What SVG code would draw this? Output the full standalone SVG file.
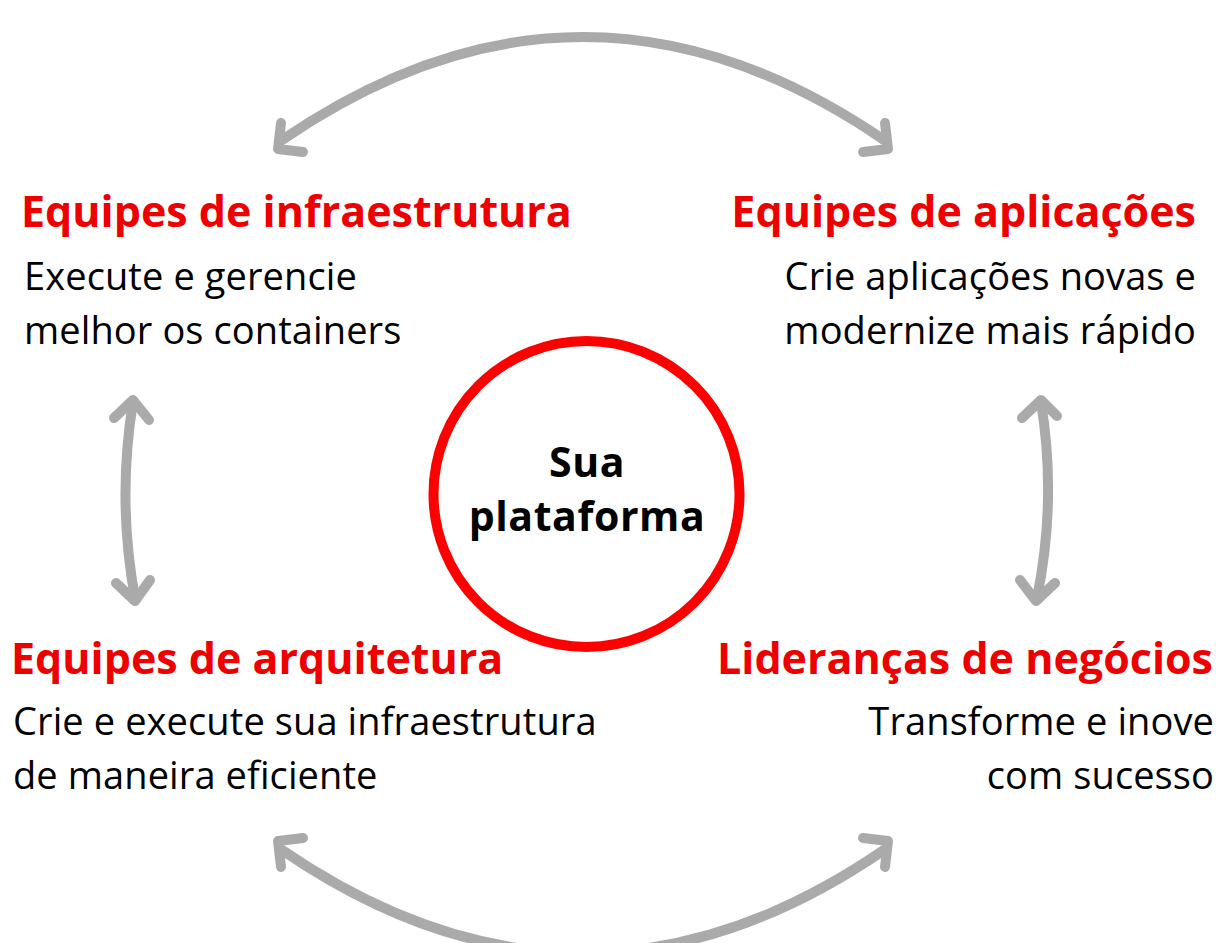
<svg xmlns="http://www.w3.org/2000/svg" width="1216" height="943" viewBox="0 0 1216 943">
<style>
.conn{fill:none;stroke:#aaaaaa;stroke-width:10;stroke-linecap:round;stroke-linejoin:round}
.title{font-family:"Open Sans","Liberation Sans",sans-serif;font-weight:700;font-size:43px;fill:#ee0000}
.body{font-family:"Open Sans","Liberation Sans",sans-serif;font-weight:400;font-size:38px;letter-spacing:0.1px;fill:#000}
.center{font-family:"Open Sans","Liberation Sans",sans-serif;font-weight:700;font-size:41px;letter-spacing:0.6px;fill:#000}
</style>
<rect width="1216" height="943" fill="#fff"/>
<g id="connectors">
<path class="conn" d="M282 140 Q583 -66 884 140"/>
<path class="conn" d="M281 123 L278 149 L303 152"/>
<path class="conn" d="M885 123 L888 149 L863 152"/>
<path class="conn" d="M282 850 Q583 1056 884 850"/>
<path class="conn" d="M281 867 L278 841 L303 838"/>
<path class="conn" d="M885 867 L888 841 L863 838"/>
<path class="conn" d="M133 402 Q117 500 135 598"/>
<path class="conn" d="M114 418 L133 400 L149 420"/>
<path class="conn" d="M116 583 L135 601 L150 580"/>
<path class="conn" d="M1041 402 Q1057 500 1037 598"/>
<path class="conn" d="M1022 418 L1041 400 L1057 416"/>
<path class="conn" d="M1020 580 L1036 601 L1055 583"/>
</g>
<g id="node-center">
<circle cx="586.5" cy="494" r="153" fill="#fff" stroke="#ff0000" stroke-width="10"/>
<text class="center" x="587" y="477" text-anchor="middle">Sua</text>
<text class="center" x="587" y="531" text-anchor="middle">plataforma</text>
</g>
<g id="node-infra">
<text class="title" x="21" y="227">Equipes de infraestrutura</text>
<text class="body" x="24" y="290">Execute e gerencie</text>
<text class="body" x="24" y="344">melhor os containers</text>
</g>
<g id="node-apps">
<text class="title" x="1196" y="227" text-anchor="end">Equipes de aplicações</text>
<text class="body" x="1196" y="290" text-anchor="end">Crie aplicações novas e</text>
<text class="body" x="1196" y="344" text-anchor="end">modernize mais rápido</text>
</g>
<g id="node-arch">
<text class="title" x="11" y="674">Equipes de arquitetura</text>
<text class="body" x="13" y="735">Crie e execute sua infraestrutura</text>
<text class="body" x="13" y="789">de maneira eficiente</text>
</g>
<g id="node-biz">
<text class="title" x="1213" y="674" text-anchor="end">Lideranças de negócios</text>
<text class="body" x="1214" y="735" text-anchor="end">Transforme e inove</text>
<text class="body" x="1214" y="789" text-anchor="end">com sucesso</text>
</g>
</svg>
